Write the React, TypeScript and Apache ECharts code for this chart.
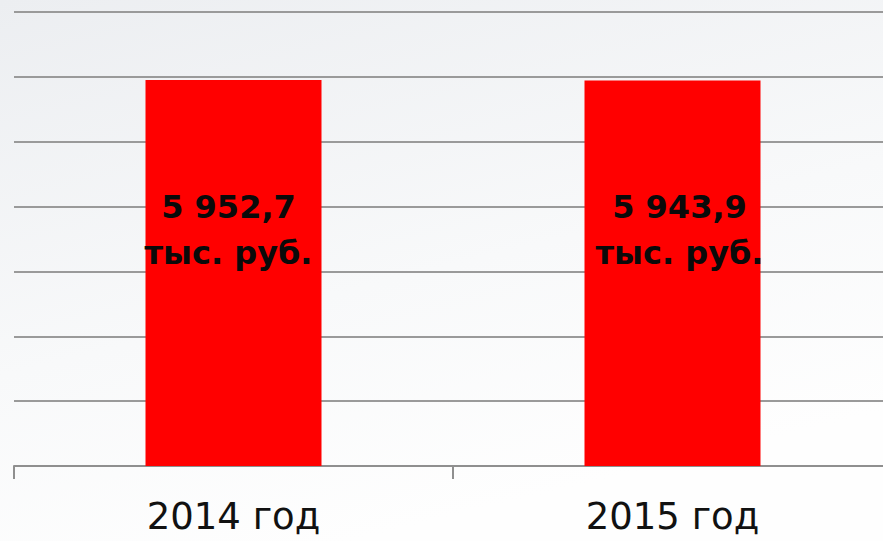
import React, { useEffect, useRef } from "react";
import * as echarts from "echarts";

const categories = ["2014 год", "2015 год"];
const values = [5952.7, 5943.9];
const valueLabels = ["5 952,7\nтыс. руб.", "5 943,9\nтыс. руб."];
const labelOffsets = [[-5, -43], [7, -43]];

export default function App() {
  const ref = useRef<HTMLDivElement>(null);
  useEffect(() => {
    document.body.style.margin = "0";
    const chart = echarts.init(ref.current!, null, { renderer: "svg" });
    chart.setOption({
      animation: false,
      backgroundColor: new echarts.graphic.LinearGradient(0, 0, 0.4, 1, [
        { offset: 0, color: "#eceef1" },
        { offset: 0.6, color: "#f8f9fa" },
        { offset: 1, color: "#fefefe" },
      ]),
      grid: { left: 14, top: 12, right: -9, bottom: 75, containLabel: false, outerBoundsMode: "none" },
      xAxis: {
        type: "category",
        data: categories,
        axisLine: { lineStyle: { color: "#8f8f8f", width: 2 } },
        axisTick: { show: true, length: 13, lineStyle: { color: "#8f8f8f", width: 2 } },
        axisLabel: {
          color: "#111",
          fontFamily: "DejaVu Sans",
          fontSize: 37,
          margin: 32,
        },
      },
      yAxis: {
        type: "value",
        min: 0,
        max: 7000,
        interval: 1000,
        axisLabel: { show: false },
        axisLine: { show: false },
        axisTick: { show: false },
        splitLine: { lineStyle: { color: "#9a9a9a", width: 2 } },
      },
      series: [
        {
          type: "bar",
          barWidth: 176,
          itemStyle: { color: "#ff0000" },
          data: values.map((v, i) => ({
            value: v,
            label: {
              show: true,
              position: "inside",
              offset: labelOffsets[i],
              formatter: valueLabels[i],
              color: "#0a0a0a",
              fontFamily: "DejaVu Sans",
              fontWeight: "bold",
              fontSize: 32,
              lineHeight: 46,
            },
          })),
        },
      ],
    });
    return () => chart.dispose();
  }, []);
  return <div ref={ref} style={{ width: 883, height: 541, position: "absolute", left: 0, top: 0 }} />;
}
